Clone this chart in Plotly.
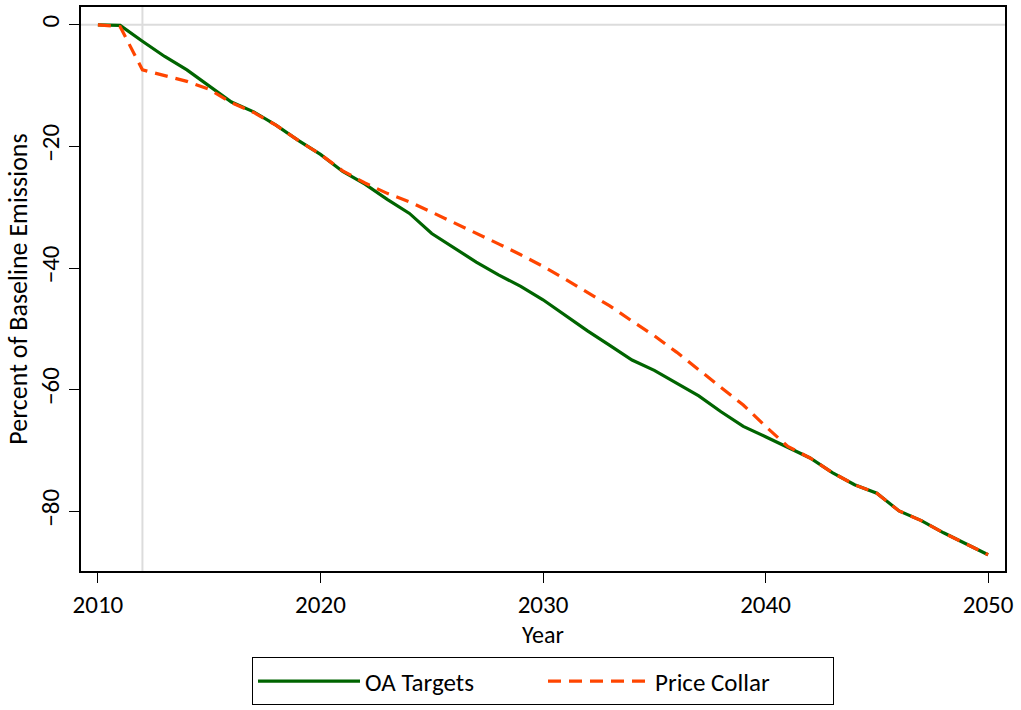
import plotly.graph_objects as go

years = list(range(2010, 2051))
oa_targets = [0.0, -0.1, -2.7, -5.2, -7.4, -10.1, -12.7, -14.3, -16.5, -19.0,
              -21.3, -24.1, -26.2, -28.7, -31.0, -34.3, -36.7, -39.0, -41.1, -43.0,
              -45.2, -47.8, -50.3, -52.7, -55.1, -56.8, -58.9, -61.0, -63.6, -66.0,
              -67.7, -69.5, -71.2, -73.6, -75.6, -77.0, -79.9, -81.5, -83.5, -85.3,
              -87.1]
price_collar = [0.0, -0.3, -7.4, -8.3, -9.3, -10.6, -12.8, -14.4, -16.5, -19.0,
                -21.3, -24.0, -26.0, -27.7, -29.1, -30.8, -32.5, -34.3, -36.0, -37.8,
                -39.7, -41.8, -44.0, -46.2, -48.7, -51.1, -53.8, -56.7, -59.5, -62.5,
                -66.0, -69.3, -71.2, -73.6, -75.6, -77.0, -79.9, -81.5, -83.5, -85.3,
                -87.1]
x_ticks = [2010, 2020, 2030, 2040, 2050]
y_ticks = [0, -20, -40, -60, -80]

FONT = "Carlito, 'Liberation Sans Narrow', 'Open Sans', sans-serif"

fig = go.Figure()
fig.add_hline(y=0, line=dict(color="#dcdcdc", width=2), layer="below")
fig.add_vline(x=2012, line=dict(color="#dcdcdc", width=2), layer="below")
fig.add_trace(go.Scatter(x=years, y=oa_targets, mode="lines", name="OA Targets",
                         line=dict(color="#006400", width=3.2)))
fig.add_trace(go.Scatter(x=years, y=price_collar, mode="lines", name="Price Collar",
                         line=dict(color="#FF4500", width=3.2, dash="13px,8px")))

fig.update_layout(
    width=1021, height=710,
    margin=dict(l=81, r=16, t=5, b=136),
    paper_bgcolor="white", plot_bgcolor="white",
    font=dict(family=FONT, size=25, color="black"),
    showlegend=True,
    legend=dict(orientation="h", x=0.5, xanchor="center", y=-0.153, yanchor="top",
                bordercolor="black", borderwidth=1, font=dict(size=25),
                itemwidth=102, entrywidth=173, traceorder="normal"),
)
fig.update_xaxes(range=[2009.24, 2050.76], tickvals=x_ticks, ticks="outside", ticklen=10,
                 tickcolor="black", showgrid=False, zeroline=False,
                 showline=True, linecolor="black", linewidth=1.5, mirror=True,
                 title=dict(text="Year", standoff=0, font=dict(size=24)),
                 tickfont=dict(size=25))
fig.update_yaxes(range=[-89.78, 2.93], tickvals=y_ticks, ticks="outside", ticklen=10,
                 tickcolor="black", showgrid=False, zeroline=False, tickangle=-90,
                 showline=True, linecolor="black", linewidth=1.5, mirror=True,
                 title=dict(text="Percent of Baseline Emissions", standoff=0, font=dict(size=26)),
                 tickfont=dict(size=25))

fig.write_html("out.html", post_script="document.body.style.margin='0';",
               config={"displayModeBar": False})
